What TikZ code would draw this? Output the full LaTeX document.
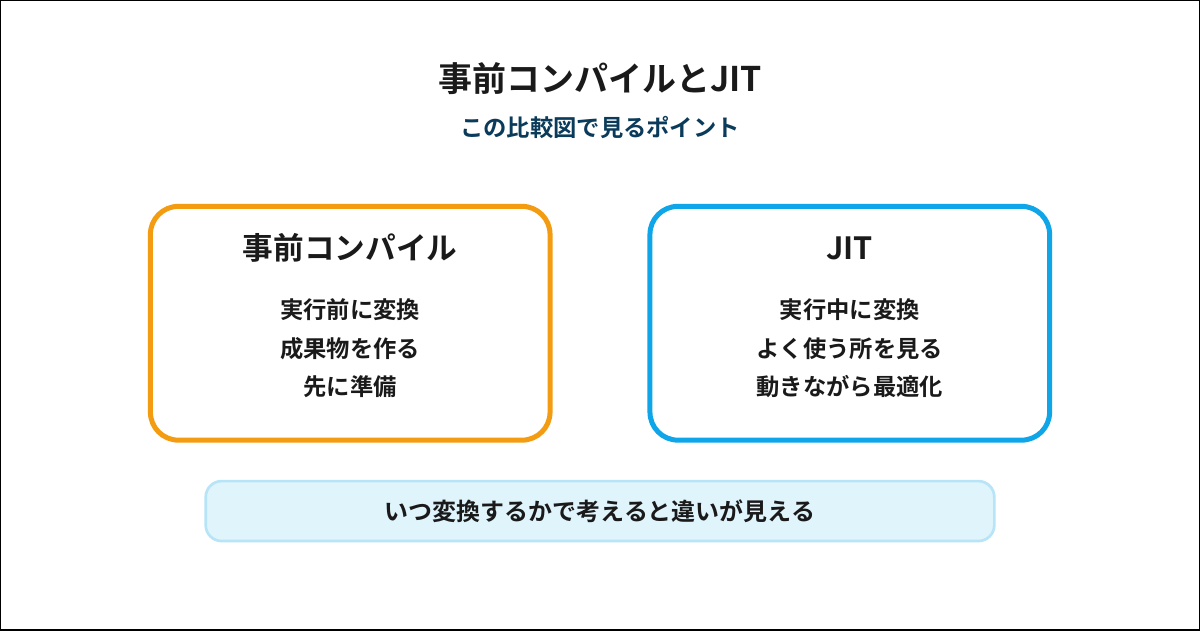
\documentclass[tikz,border=0pt]{standalone}
\usepackage{fontspec}
\setmainfont{Noto Sans CJK JP}[BoldFont={* Bold}]
\usetikzlibrary{positioning}
\definecolor{aotorange}{HTML}{F39C12}
\definecolor{jitblue}{HTML}{0EA5E9}
\definecolor{notefill}{HTML}{E0F4FC}
\definecolor{noteline}{HTML}{B8E4F8}
\definecolor{subcol}{HTML}{0B3B5A}
\definecolor{ink}{HTML}{1A1A1A}
\tikzset{
  card/.style={draw, line width=3.75pt, outer sep=0pt, rounded corners=21pt, minimum width=300pt, minimum height=175.5pt},
  cardtitle/.style={font=\fontsize{23}{26}\selectfont\bfseries, text=ink},
  cardtext/.style={font=\fontsize{17.5}{29}\selectfont\bfseries, text=ink, align=center},
}
\begin{document}
\begin{tikzpicture}[x=0.75pt,y=-0.75pt]

% Frame
\draw[line width=0.8pt, fill=white] (0,0) rectangle (1200,630);

% Title
\node[font=\fontsize{25.5}{30}\selectfont\bfseries, text=ink] (title) at (600,78) {事前コンパイルとJIT};
\node[font=\fontsize{17.5}{20}\selectfont\bfseries, text=subcol] (sub) at (600,127) {この比較図で見るポイント};

% Cards
\node[card, draw=aotorange] (aot) at (350,323) {};
\node[card, draw=jitblue] (jit) at (850,323) {};
\node[cardtitle] (aott) at (350,248) {事前コンパイル};
\node[cardtitle] (jitt) at (850,248) {JIT};
\node[cardtext] (aotx) at (350,348) {実行前に変換\\成果物を作る\\先に準備};
\node[cardtext] (jitx) at (850,348) {実行中に変換\\よく使う所を見る\\動きながら最適化};

% Note
\node[draw=noteline, fill=notefill, line width=2pt, outer sep=0pt, rounded corners=12pt, minimum width=592pt, minimum height=45pt,
      font=\fontsize{18}{20}\selectfont\bfseries, text=ink] (note) at (600,511) {いつ変換するかで考えると違いが見える};

\end{tikzpicture}
\end{document}
